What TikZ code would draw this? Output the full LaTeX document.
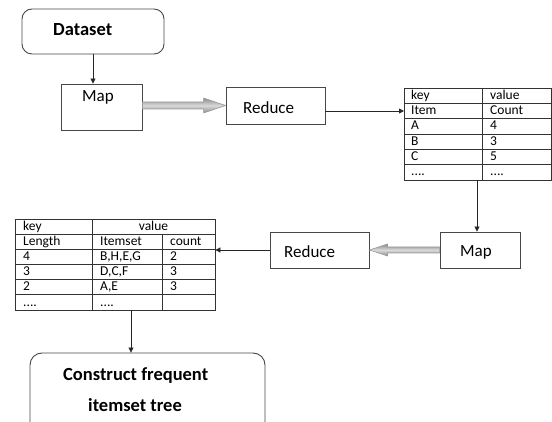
\documentclass[tikz,border=0pt]{standalone}
\usepackage{fontspec}
\setmainfont{Carlito}
\usetikzlibrary{arrows.meta,calc}
\newcommand\tabdots{....}
\begin{document}
\begin{tikzpicture}[x=1pt,y=-1pt,
  box/.style={draw=black!72, line width=0.9pt, inner sep=0pt, rectangle},
  rbox/.style={box, rounded corners=10pt},
  lbl/.style={anchor=base west, inner sep=0pt, font=\fontsize{17}{20}\selectfont},
  blbl/.style={anchor=base west, inner sep=0pt, font=\fontsize{18.5}{22}\selectfont\bfseries},
  cell/.style={anchor=base west, inner sep=0pt, font=\fontsize{13.5}{15}\selectfont},
  tab/.style={draw=black!80, line width=0.8pt},
  arr/.style={draw=black!85, line width=0.8pt, -{Triangle[length=5pt,width=5pt]}},
  fat/.style={draw=black!40, line width=0.6pt, top color=black!45, bottom color=black!45, middle color=black!15}
]
\useasboundingbox (0,0) rectangle (552,422);
\clip (0,0) rectangle (552,422);
\fill[white] (0,0) rectangle (552,422);

% boxes
\node[rbox, minimum width=142pt, minimum height=45pt] (dataset) at (93,31.5) {};
\node[blbl] (datasettxt) at (53,36) {Dataset};

\node[box, minimum width=81pt, minimum height=46pt] (map) at (101.5,107) {};
\node[lbl] (maptxt) at (82,101.5) {Map};

\node[box, minimum width=99pt, minimum height=37pt] (reduce) at (275.5,105.5) {};
\node[lbl] (reducetxt) at (243,113.3) {Reduce};

\node[box, minimum width=80pt, minimum height=36pt] (map2) at (480,250) {};
\node[lbl] (map2txt) at (460,256.7) {Map};

\node[box, minimum width=99pt, minimum height=36pt] (reduce2) at (319.5,250) {};
\node[lbl] (reduce2txt) at (284,257.3) {Reduce};

\node[box, rounded corners=12pt, minimum width=235pt, minimum height=100pt] (construct) at (147.5,403) {};
\node[blbl] (constxt1) at (63,380) {Construct frequent};
\node[blbl] (constxt2) at (88,411) {itemset tree};

% table 1
\node[tab, inner sep=0pt, minimum width=147pt, minimum height=92pt] (t1) at (477.5,134) {};
\foreach \i in {1,2,3,4,5} {
  \draw[tab] (404,88+\i*15.33) -- (551,88+\i*15.33);
}
\draw[tab] (482,88) -- (482,180);
\foreach \a/\b [count=\r from 0] in {key/value, Item/Count, A/4, B/3, C/5, {\tabdots}/{\tabdots}} {
  \node[cell] (t1a\r) at (411,88+\r*15.33+11.3) {\a};
  \node[cell] (t1b\r) at (490,88+\r*15.33+11.3) {\b};
}

% table 2
\node[tab, inner sep=0pt, minimum width=200pt, minimum height=91pt] (t2) at (115,264.5) {};
\foreach \i in {1,2,3,4,5} {
  \draw[tab] (15,219+\i*15.17) -- (215,219+\i*15.17);
}
\draw[tab] (92,219) -- (92,310);
\draw[tab] (162,234.17) -- (162,310);
\node[cell] (t2key) at (23,230.3) {key};
\node[cell, anchor=base] (t2val) at (153.5,230.3) {value};
\foreach \a/\b/\c [count=\r from 1] in {Length/Itemset/count, 4/{B,H,E,G}/2, 3/{D,C,F}/3, 2/{A,E}/3, {\tabdots}/{\tabdots}/{}} {
  \node[cell] (t2a\r) at (23,219+\r*15.17+11.3) {\a};
  \node[cell] (t2b\r) at (100,219+\r*15.17+11.3) {\b};
  \node[cell] (t2c\r) at (170,219+\r*15.17+11.3) {\c};
}

% connectors
\coordinate (t1in) at (404,111);
\coordinate (c1) at (477,0);
\coordinate (c2) at (131,0);

\draw[arr] (dataset.south) -- (dataset.south |- map.north);
\path[fat] let \p1=(map.east), \p2=(reduce.west) in
  (\x1,\y2+3.5pt) -- (\x2-22pt,\y2+3.5pt) -- (\x2-22pt,\y2+7.5pt) -- (\x2,\y2)
  -- (\x2-22pt,\y2-7.5pt) -- (\x2-22pt,\y2-3.5pt) -- (\x1,\y2-3.5pt) -- cycle;
\draw[arr] (reduce.east |- t1in) -- (t1in);
\draw[arr] (t1.south -| c1) -- (c1 |- map2.north);
\path[fat] let \p1=(map2.west), \p2=(reduce2.east) in
  (\x1,\y1+3pt) -- (\x2+18pt,\y1+3pt) -- (\x2+18pt,\y1+6pt) -- (\x2,\y1)
  -- (\x2+18pt,\y1-6pt) -- (\x2+18pt,\y1-3pt) -- (\x1,\y1-3pt) -- cycle;
\draw[arr] (reduce2.west) -- (reduce2.west -| t2.east);
\draw[arr] (t2.south -| c2) -- (c2 |- construct.north);
\end{tikzpicture}
\end{document}
